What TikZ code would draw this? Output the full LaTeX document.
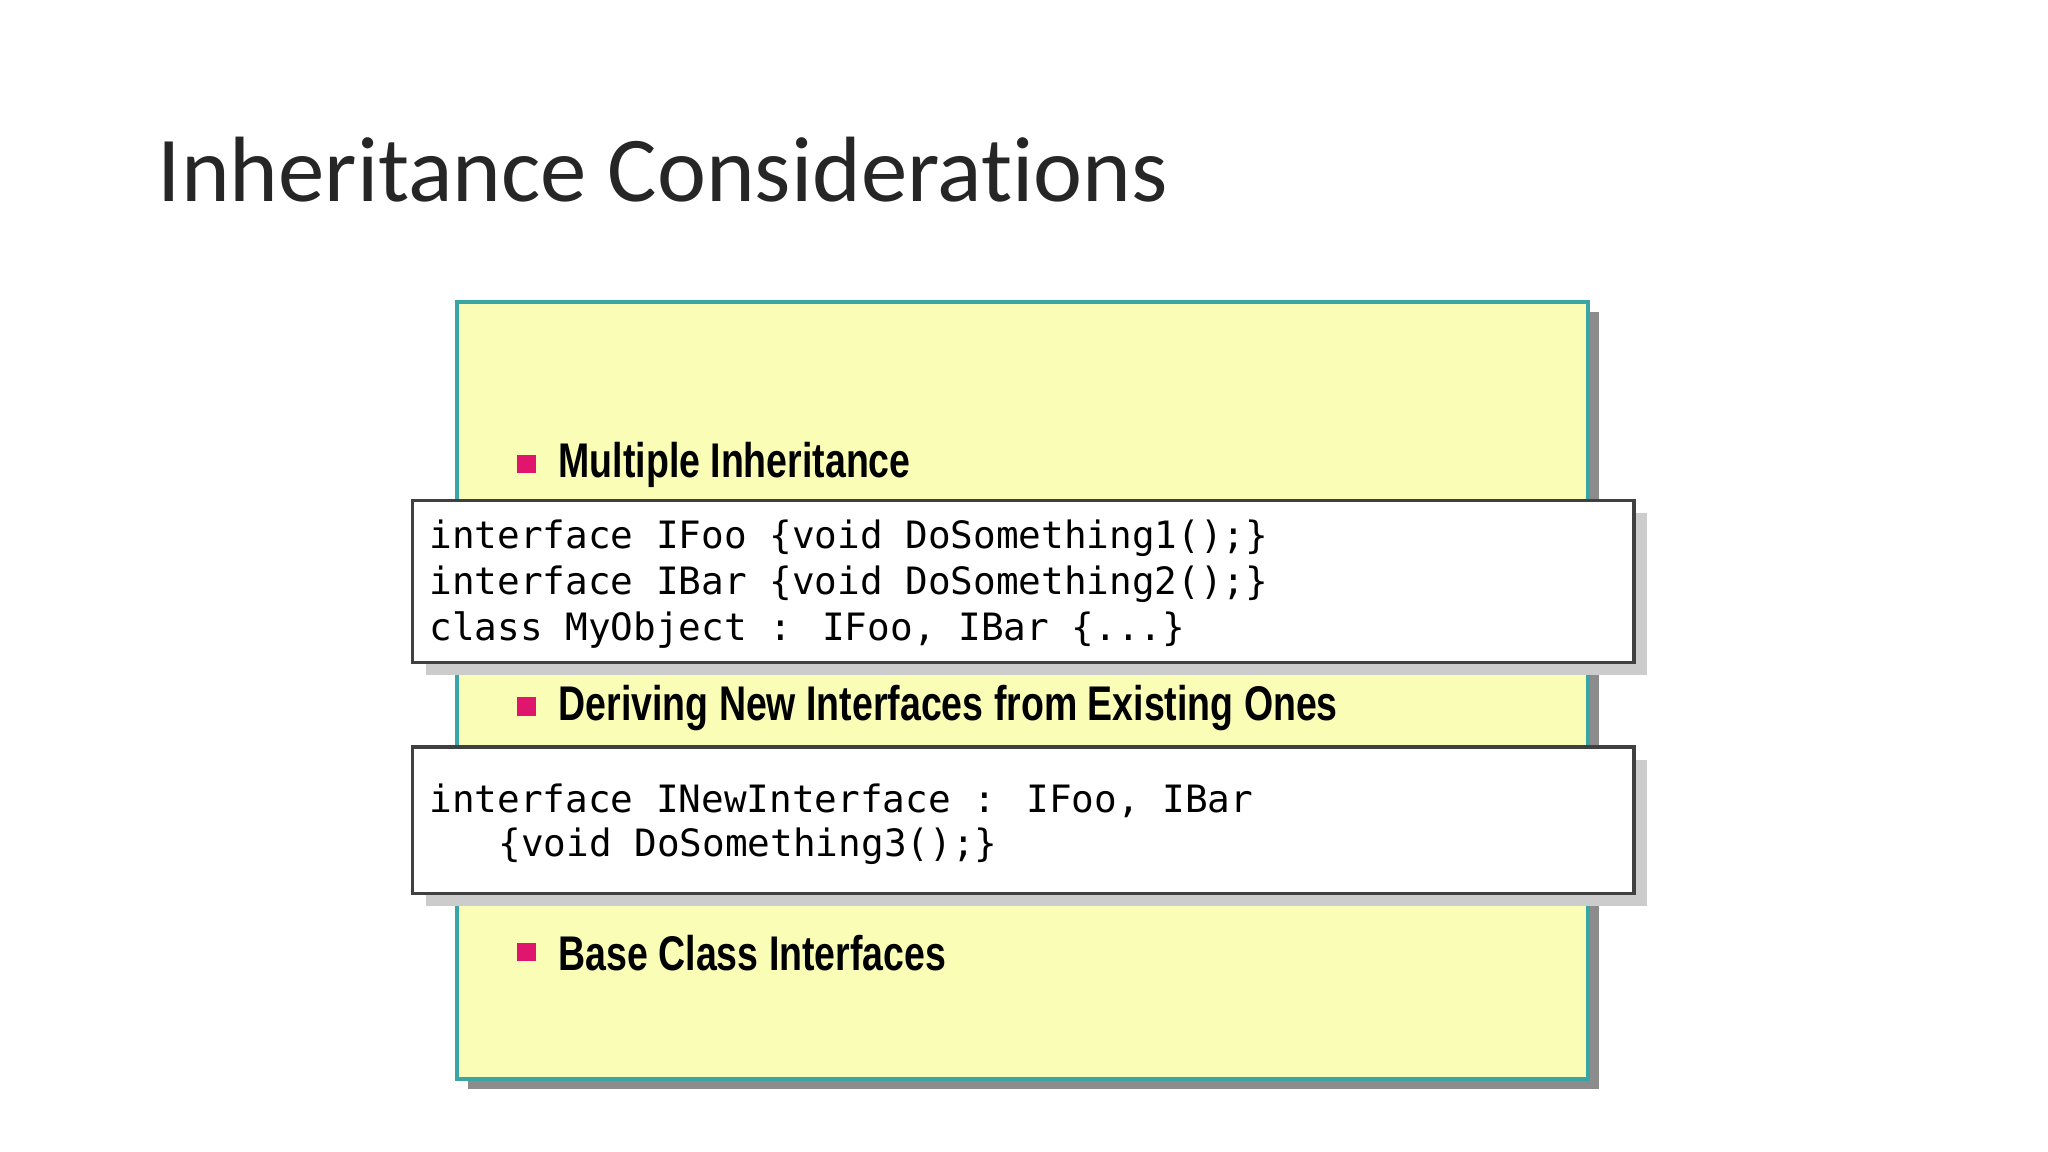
\documentclass[tikz,border=0pt]{standalone}
\usepackage{fontspec}
\setmainfont{Carlito}
\newfontfamily\titlefont[RawFeature=-liga]{Carlito}
\newfontfamily\bulfont{Liberation Sans}
\newfontfamily\codefont{DejaVu Sans Mono}
\definecolor{boxyellow}{HTML}{FAFDB6}
\definecolor{boxedge}{HTML}{3AA5A5}
\definecolor{bulpink}{HTML}{E0166E}
\tikzset{
  bul/.style={fill=bulpink,minimum size=0.14cm,inner sep=0pt},
  bultext/.style={anchor=west,inner sep=0pt,font=\bulfont\bfseries\fontsize{10.6}{12}\selectfont},
  codetext/.style={anchor=west,inner sep=0pt,font=\codefont\fontsize{8.2}{10}\selectfont},
  codebox/.style={draw=black!75,line width=0.7pt,fill=white}
}
\begin{document}
\begin{tikzpicture}[x=0.01cm,y=-0.01cm]
\useasboundingbox (0,0) rectangle (1568,882);
\node[anchor=base west,inner sep=0pt,text=black!85,font=\titlefont\fontsize{20.2}{24}\selectfont] (title) at (120,154) {Inheritance Considerations};
% yellow panel
\fill[black!45] (358,239) rectangle (1224,834);
\draw[fill=boxyellow,draw=boxedge,line width=0.8pt] (350,231) rectangle (1216,826);
\node[bul] (b1) at (403,355) {};
\node[bultext] (t1) at (427,356) {\scalebox{0.77}[1]{Multiple Inheritance}};
\node[bul] (b2) at (403,541) {};
\node[bultext] (t2) at (427,542) {\scalebox{0.77}[1]{Deriving New Interfaces from Existing Ones}};
\node[bul] (b3) at (403,729) {};
\node[bultext] (t3) at (427,730) {\scalebox{0.77}[1]{Base Class Interfaces}};
% code box 1
\fill[black!20] (326,393) rectangle (1261,517);
\draw[codebox] (316,383) rectangle (1251,507);
\node[codetext] (c1) at (328,412) {interface IFoo \{void DoSomething1();\}};
\node[codetext] (c2) at (328,447) {interface IBar \{void DoSomething2();\}};
\node[codetext] (c3) at (328,482) {class MyObject : IFoo, IBar \{...\}};
% code box 2
\fill[black!20] (326,582) rectangle (1261,694);
\draw[codebox] (316,572) rectangle (1251,684);
\node[codetext] (c4) at (328,613) {interface INewInterface : IFoo, IBar};
\node[codetext] (c5) at (381,648) {\{void DoSomething3();\}};
\end{tikzpicture}
\end{document}
